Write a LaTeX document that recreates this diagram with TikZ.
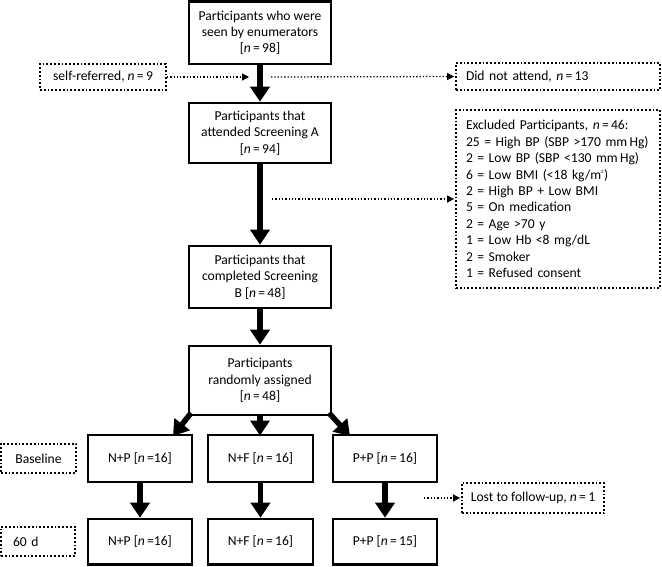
\documentclass[tikz,border=0pt]{standalone}
\usepackage{fontspec}
\setmainfont{Carlito}
\usetikzlibrary{arrows.meta}
\newcommand{\nn}{\textit{n}\,=\,}
\tikzset{
  x=1pt, y=-1pt,
  every node/.style={font=\fontsize{13.6}{16.4}\selectfont},
  solidbox/.style={draw, line width=2.6pt, align=center, inner sep=2pt},
  dotbox/.style={draw, dotted, line width=1.8pt, inner sep=2pt},
  bigarrow/.style={line width=5.5pt, -{Triangle[width=19pt,length=15pt]}},
  dotarrow/.style={dotted, line width=1.3pt, -{Triangle[width=7pt,length=7pt]}, shorten >=1pt}
}
\begin{document}
\begin{tikzpicture}
\useasboundingbox (0,0) rectangle (662,566);
% main column
\node[solidbox, minimum width=142pt, minimum height=62.5pt] (seen) at (260,32.75) {Participants who were\\seen by enumerators\\{[}\nn 98{]}};
\node[solidbox, minimum width=142pt, minimum height=60pt] (scrA) at (260,133) {Participants that\\attended Screening A\\{[}\nn 94{]}};
\node[solidbox, minimum width=142pt, minimum height=62pt] (scrB) at (260,277) {Participants that\\completed Screening\\B {[}\nn 48{]}};
\node[solidbox, minimum width=142pt, minimum height=69pt] (rand) at (260,380.5) {Participants\\randomly assigned\\{[}\nn 48{]}};
% groups
\node[solidbox, minimum width=104pt, minimum height=47pt] (np1) at (140,458.5) {N+P {[}\textit{n}\,=16{]}};
\node[solidbox, minimum width=105pt, minimum height=47pt] (nf1) at (260.5,458.5) {N+F {[}\nn 16{]}};
\node[solidbox, minimum width=104pt, minimum height=47pt] (pp1) at (385,458.5) {P+P {[}\nn 16{]}};
\node[solidbox, minimum width=104pt, minimum height=45.5pt] (np2) at (140,541.75) {N+P {[}\textit{n}\,=16{]}};
\node[solidbox, minimum width=105pt, minimum height=45.5pt] (nf2) at (260.5,541.75) {N+F {[}\nn 16{]}};
\node[solidbox, minimum width=104pt, minimum height=45.5pt] (pp2) at (385,541.75) {P+P {[}\nn 15{]}};
% side boxes
\node[dotbox, minimum width=126pt, minimum height=26pt] (self) at (103,77) {self-referred, \nn 9};
\node[dotbox, minimum width=204pt, minimum height=27pt, text width=184pt, inner xsep=10pt, align=left] (dna) at (558,76.5) {Did not attend, \nn 13};
\node[dotbox, minimum width=204pt, minimum height=178pt, text width=184pt, inner xsep=10pt, align=left] (excl) at (558,199) {Excluded Participants, \nn 46:\\25 = High BP (SBP {>}170 mm\,Hg)\\2 = Low BP (SBP {<}130 mm\,Hg)\\6 = Low BMI ({<}18 kg/m\textsuperscript{\tiny 2})\\2 = High BP + Low BMI\\5 = On medication\\2 = Age {>}70 y\\1 = Low Hb {<}8 mg/dL\\2 = Smoker\\1 = Refused consent};
\node[dotbox, minimum width=75pt, minimum height=29pt] (base) at (38.5,458.5) {Baseline};
\node[dotbox, minimum width=74pt, minimum height=29pt, text width=50pt, inner xsep=12pt, align=left] (sixty) at (38,541.5) {60 d};
\node[dotbox, minimum width=142pt, minimum height=30pt] (lost) at (533,498) {Lost to follow-up, \nn 1};
% coordinates
\coordinate (c1) at (250,77);
\coordinate (c2) at (271,77);
\coordinate (c3) at (272,199);
\coordinate (c4) at (424,498);
\coordinate (rl) at (191,413);
\coordinate (rr) at (329,413);
\coordinate (tl) at (173,436);
\coordinate (tr) at (350,436);
% thick arrows
\draw[bigarrow] (seen.south) -- (scrA.north);
\draw[bigarrow] (scrA.south) -- (scrB.north);
\draw[bigarrow] (scrB.south) -- (rand.north);
\draw[bigarrow] (rand.south) -- (260,435.5);
\draw[bigarrow] (rl) -- (tl);
\draw[bigarrow] (rr) -- (tr);
\draw[bigarrow] (np1.south) -- (np2.north);
\draw[bigarrow] (nf1.south) -- (nf2.north);
\draw[bigarrow] (pp1.south) -- (pp2.north);
% dotted arrows
\draw[dotarrow] (self.east) -- (c1);
\draw[dotarrow] (c2) -- (dna.west);
\draw[dotarrow] (c3) -- (excl.west |- c3);
\draw[dotarrow] (c4) -- (lost.west);
\end{tikzpicture}
\end{document}
